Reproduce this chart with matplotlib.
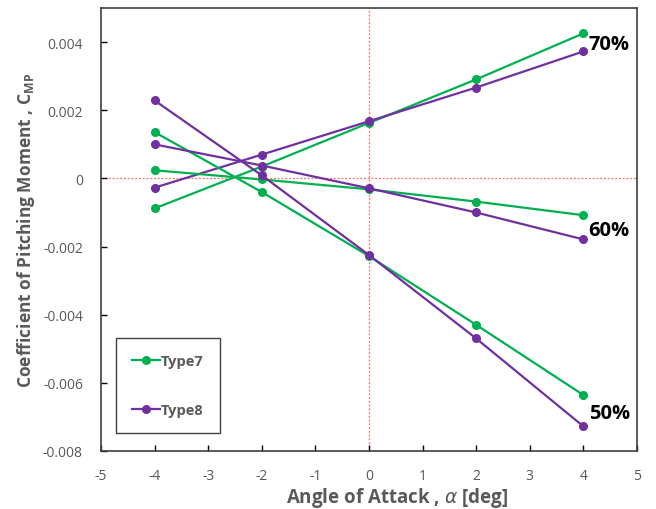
import matplotlib.pyplot as plt

# angle of attack [deg]
alpha = [-4, -2, 0, 2, 4]

# Type7 (green) pitching moment per hinge position
type7_70 = [-0.00088, 0.00035, 0.00163, 0.00291, 0.00426]
type7_60 = [0.00024, -0.00003, -0.00032, -0.00068, -0.00108]
type7_50 = [0.00136, -0.00040, -0.00228, -0.00430, -0.00636]

# Type8 (purple)
type8_70 = [-0.00027, 0.00070, 0.00168, 0.00267, 0.00373]
type8_60 = [0.00100, 0.00038, -0.00029, -0.00100, -0.00179]
type8_50 = [0.00229, 0.00009, -0.00225, -0.00470, -0.00728]

pct_labels = ["70%", "60%", "50%"]
pct_y = [0.00394, -0.00152, -0.00688]

GREEN = "#00b050"
PURPLE = "#7030a0"
GREY = "#595959"

plt.rcParams["font.family"] = ["Open Sans", "DejaVu Sans"]
plt.rcParams["axes.unicode_minus"] = False

fig = plt.figure(figsize=(6.56, 5.10), dpi=100)
ax = fig.add_axes([0.154, 0.114, 0.817, 0.868])

ax.axvline(0, color="#ff6b6b", linestyle=(0, (1.5, 1.5)), linewidth=0.9, zorder=1)
ax.axhline(0, color="#ff6b6b", linestyle=(0, (1.5, 1.5)), linewidth=0.9, zorder=1)

style = dict(marker="o", markersize=5.5, linewidth=1.6, zorder=3)
ax.plot(alpha, type7_70, color=GREEN, label="Type7", **style)
ax.plot(alpha, type8_70, color=PURPLE, label="Type8", **style)
for ys in (type7_60, type7_50):
    ax.plot(alpha, ys, color=GREEN, **style)
for ys in (type8_60, type8_50):
    ax.plot(alpha, ys, color=PURPLE, **style)

for lab, y in zip(pct_labels, pct_y):
    ax.text(4.1, y, lab, fontsize=14.5, fontweight="bold", color="black",
            ha="left", va="center", zorder=4)

ax.set_xlim(-5, 5)
ax.set_ylim(-0.008, 0.005)
ax.set_xticks(range(-5, 6))
ax.set_yticks([-0.008, -0.006, -0.004, -0.002, 0, 0.002, 0.004])
ax.set_yticklabels(["-0.008", "-0.006", "-0.004", "-0.002", "0", "0.002", "0.004"])
ax.tick_params(direction="in", length=4, width=1, colors="black",
               labelcolor=GREY, labelsize=10)
ax.tick_params(axis="x", pad=12)
ax.tick_params(axis="y", pad=13)
for s in ax.spines.values():
    s.set_color("#404040")
    s.set_linewidth(1.2)

ax.set_xlabel(r"Angle of Attack , $\alpha$ [deg]", fontsize=13.5, fontweight="bold",
              color=GREY)
ax.xaxis.set_label_coords(0.552, -0.077)
ax.set_ylabel(r"Coefficient of Pitching Moment , C$_{\mathregular{MP}}$", fontsize=12.5,
              fontweight="bold", color=GREY)
ax.yaxis.set_label_coords(-0.12, 0.5)

leg = ax.legend(loc="lower left", bbox_to_anchor=(0.028, 0.04), borderaxespad=0,
                fontsize=10.5, labelspacing=2.4, handlelength=1.9, handletextpad=0.1,
                borderpad=1.1, fancybox=False, framealpha=1, labelcolor=GREY)
leg.get_frame().set_edgecolor("#404040")
leg.get_frame().set_linewidth(1.0)
for t in leg.get_texts():
    t.set_fontweight("bold")

fig.savefig("out.png", dpi=100)
